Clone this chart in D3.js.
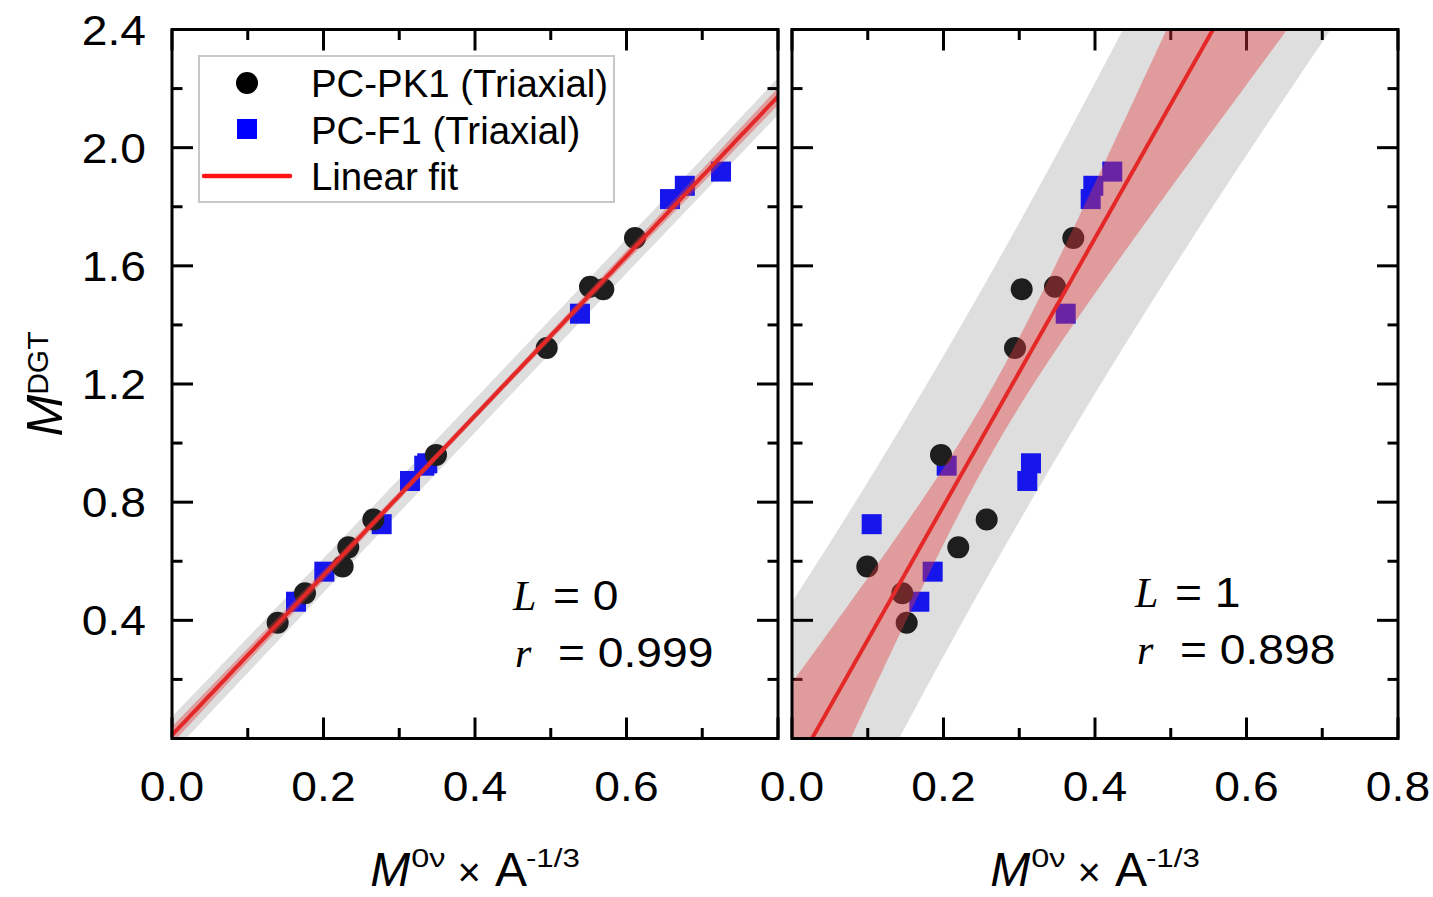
<!DOCTYPE html>
<html>
<head>
<meta charset="utf-8">
<script src="https://cdn.jsdelivr.net/npm/d3@7"></script>
<style>
  body { margin: 0; background: #fff; }
  svg { display: block; }
  text { font-family: "Liberation Sans", Arial, sans-serif; fill: #000; }
</style>
</head>
<body>
<svg id="chart" width="1433" height="897"></svg>
<script>
// M^DGT values (shared by both panels) and M^0v x A^-1/3 for L = 0 and L = 1
const mdgtPK1  = [0.392, 0.4915, 0.582, 0.647, 0.741, 0.960, 1.322, 1.5295, 1.521, 1.694];
const m0vL0PK1 = [0.1395, 0.1756, 0.2253, 0.2327, 0.2658, 0.3485, 0.4947, 0.5518, 0.5694, 0.6112];
const m0vL1PK1 = [0.1514, 0.1456, 0.0994, 0.2195, 0.2570, 0.1967, 0.2944, 0.3472, 0.3032, 0.3714];

const mdgtF1   = [0.463, 0.5647, 0.7255, 0.8717, 0.9235, 0.9316, 1.438, 1.826, 1.871, 1.919];
const m0vL0F1  = [0.1637, 0.2011, 0.2768, 0.3142, 0.333, 0.337, 0.5386, 0.6574, 0.677, 0.7248];
const m0vL1F1  = [0.1681, 0.1857, 0.1052, 0.3106, 0.2042, 0.3155, 0.3613, 0.3943, 0.3978, 0.4228];

const multipoleOrders = ["0", "1"];
const correlations = ["0.999", "0.898"];
const legendLabels = ["PC-PK1 (Triaxial)", "PC-F1 (Triaxial)", "Linear fit"];
const xMajorTicks = [0.0, 0.2, 0.4, 0.6, 0.8];
const xMinorTicks = [0.1, 0.3, 0.5, 0.7];
const yMajorTicks = [0.4, 0.8, 1.2, 1.6, 2.0, 2.4];
const yMinorTicks = [0.2, 0.6, 1.0, 1.4, 1.8, 2.2];
const T_CRIT_95 = 2.1009; // two-sided 95 %, 18 degrees of freedom

const svg = d3.select("#chart");
svg.append("rect").attr("width", 1433).attr("height", 897).attr("fill", "#fff");

const plotTop = 29.5, plotBottom = 738.5;
const panels = [
  { x0: 172, x1: 778, xs: m0vL0PK1.concat(m0vL0F1), pk: m0vL0PK1, f1: m0vL0F1, xLabels: [0.0, 0.2, 0.4, 0.6], yLabels: true },
  { x0: 792, x1: 1398, xs: m0vL1PK1.concat(m0vL1F1), pk: m0vL1PK1, f1: m0vL1F1, xLabels: [0.0, 0.2, 0.4, 0.6, 0.8], yLabels: false }
];
const allY = mdgtPK1.concat(mdgtF1);

function stretch(sel, sx) {
  sel.each(function () {
    const L = this.getComputedTextLength();
    this.setAttribute("textLength", L * sx);
    this.setAttribute("lengthAdjust", "spacingAndGlyphs");
  });
}

// Lays out a sequence of differently styled text runs, centred on (cx, baseline)
function richText(parent, runs, cx, baseline, rotate) {
  const outer = parent.append("g")
    .attr("transform", `translate(${cx},${baseline})` + (rotate ? ` rotate(${rotate})` : ""));
  const g = outer.append("g");
  let pos = 0;
  runs.forEach(r => {
    pos += r.dx || 0;
    const t = g.append("text")
      .attr("x", pos).attr("y", r.dy || 0)
      .attr("font-size", r.size)
      .attr("font-style", r.italic ? "italic" : "normal")
      .text(r.t);
    if (r.family) t.style("font-family", r.family);
    let L = t.node().getComputedTextLength();
    if (r.sx && r.sx !== 1) {
      t.attr("textLength", L * r.sx).attr("lengthAdjust", "spacingAndGlyphs");
      L *= r.sx;
    }
    pos += L;
  });
  g.attr("transform", `translate(${-pos / 2},0)`);
}

function linearFit(xs, ys) {
  const n = xs.length;
  const xbar = d3.mean(xs), ybar = d3.mean(ys);
  let sxx = 0, sxy = 0;
  xs.forEach((x, i) => { sxx += (x - xbar) ** 2; sxy += (x - xbar) * (ys[i] - ybar); });
  const b = sxy / sxx, a = ybar - b * xbar;
  let sse = 0;
  xs.forEach((x, i) => { sse += (ys[i] - a - b * x) ** 2; });
  const s = Math.sqrt(sse / (n - 2));
  return { a, b, s, n, xbar, sxx };
}

panels.forEach((p, idx) => {
  const x = d3.scaleLinear().domain([0, 0.8]).range([p.x0, p.x1]);
  const y = d3.scaleLinear().domain([0, 2.4]).range([plotBottom, plotTop]);
  const g = svg.append("g");
  const clipId = "clip" + idx;
  svg.append("clipPath").attr("id", clipId).append("rect")
    .attr("x", p.x0).attr("y", plotTop).attr("width", p.x1 - p.x0).attr("height", plotBottom - plotTop);

  const fit = linearFit(p.xs, allY);
  const grid = d3.range(0, 0.8001, 0.004).map(v => {
    const yhat = fit.a + fit.b * v;
    const k = 1 / fit.n + (v - fit.xbar) ** 2 / fit.sxx;
    const conf = T_CRIT_95 * fit.s * Math.sqrt(k);
    const pred = T_CRIT_95 * fit.s * Math.sqrt(1 + k);
    return { v, yhat, conf, pred };
  });

  // prediction band
  g.append("path").attr("clip-path", `url(#${clipId})`)
    .attr("fill", "#dedede")
    .attr("d", d3.area().x(d => x(d.v)).y0(d => y(d.yhat - d.pred)).y1(d => y(d.yhat + d.pred))(grid));

  // ticks (inward, on all four sides)
  const ticks = g.append("g").attr("stroke", "#000").attr("stroke-width", 3);
  [[xMajorTicks, 21], [xMinorTicks, 10.5]].forEach(([vals, len]) => {
    vals.forEach(v => {
      ticks.append("line").attr("x1", x(v)).attr("x2", x(v)).attr("y1", plotBottom).attr("y2", plotBottom - len);
      ticks.append("line").attr("x1", x(v)).attr("x2", x(v)).attr("y1", plotTop).attr("y2", plotTop + len);
    });
  });
  [[yMajorTicks, 21], [yMinorTicks, 10.5]].forEach(([vals, len]) => {
    vals.forEach(v => {
      ticks.append("line").attr("y1", y(v)).attr("y2", y(v)).attr("x1", p.x0).attr("x2", p.x0 + len);
      ticks.append("line").attr("y1", y(v)).attr("y2", y(v)).attr("x1", p.x1).attr("x2", p.x1 - len);
    });
  });

  // data points
  g.append("g").selectAll("rect").data(p.f1).join("rect")
    .attr("x", d => x(d) - 10).attr("y", (d, i) => y(mdgtF1[i]) - 10)
    .attr("width", 20).attr("height", 20).attr("fill", "#1616ec");
  g.append("g").selectAll("circle").data(p.pk).join("circle")
    .attr("cx", d => x(d)).attr("cy", (d, i) => y(mdgtPK1[i])).attr("r", 11)
    .attr("fill", "#1e1e1e");

  // confidence band and fitted line
  g.append("path").attr("clip-path", `url(#${clipId})`)
    .attr("fill", "rgb(228,57,57)").attr("fill-opacity", 0.4)
    .attr("d", d3.area().x(d => x(d.v)).y0(d => y(d.yhat - d.conf)).y1(d => y(d.yhat + d.conf))(grid));
  g.append("path").attr("clip-path", `url(#${clipId})`)
    .attr("fill", "none").attr("stroke", "#e42828").attr("stroke-width", 4)
    .attr("d", d3.line().x(d => x(d.v)).y(d => y(d.yhat))(grid));

  // frame
  g.append("rect").attr("x", p.x0).attr("y", plotTop).attr("width", p.x1 - p.x0).attr("height", plotBottom - plotTop)
    .attr("fill", "none").attr("stroke", "#000").attr("stroke-width", 3);

  // tick labels
  g.append("g").selectAll("text").data(p.xLabels).join("text")
    .attr("x", d => x(d)).attr("y", 801).attr("text-anchor", "middle").attr("font-size", 42)
    .text(d => d.toFixed(1)).call(stretch, 1.1);
  if (p.yLabels) {
    g.append("g").selectAll("text").data(yMajorTicks).join("text")
      .attr("x", 146).attr("y", d => y(d) + 15).attr("text-anchor", "end").attr("font-size", 42)
      .text(d => d.toFixed(1)).call(stretch, 1.1);
  }

  // x-axis title
  richText(g, [
    { t: "M", size: 48, italic: true },
    { t: "0\u03BD", size: 25, dy: -19, sx: 1.3, dx: 1 },
    { t: "\u00D7", size: 40, dx: 12 },
    { t: "A", size: 48, dx: 14 },
    { t: "-1/3", size: 25, dy: -19, sx: 1.25, dx: -1 }
  ], (p.x0 + p.x1) / 2, 886);

  // annotation
  const ax = p.x0 + (idx === 0 ? 341 : 343);
  const ay = idx === 0 ? 610 : 607;
  g.append("text").attr("x", ax).attr("y", ay).attr("font-size", 42).attr("font-style", "italic")
    .style("font-family", "'Liberation Serif', 'Times New Roman', serif").text("L");
  g.append("text").attr("x", ax + 40).attr("y", ay).attr("font-size", 42)
    .text("= " + multipoleOrders[idx]).call(stretch, 1.1);
  g.append("text").attr("x", ax + 2).attr("y", ay + 57).attr("font-size", 42).attr("font-style", "italic")
    .style("font-family", "'Liberation Serif', 'Times New Roman', serif").text("r");
  g.append("text").attr("x", ax + 45).attr("y", ay + 57).attr("font-size", 42)
    .text("= " + correlations[idx]).call(stretch, 1.1);
});

// y-axis title
richText(svg, [
  { t: "M", size: 50, italic: true },
  { t: "DGT", size: 30, dy: -14, dx: 0 }
], 62, 384, -90);

// legend
const lg = svg.append("g");
lg.append("rect").attr("x", 199).attr("y", 56).attr("width", 415).attr("height", 146)
  .attr("fill", "#fff").attr("stroke", "#c8c8c8").attr("stroke-width", 2);
lg.append("circle").attr("cx", 247).attr("cy", 83).attr("r", 11).attr("fill", "#000");
lg.append("rect").attr("x", 237).attr("y", 119).attr("width", 20).attr("height", 20).attr("fill", "#0000ff");
lg.append("line").attr("x1", 204).attr("x2", 290).attr("y1", 176).attr("y2", 176)
  .attr("stroke", "#ff1414").attr("stroke-width", 4.5).attr("stroke-linecap", "round");
lg.selectAll("text.leg").data(legendLabels).join("text").attr("class", "leg")
  .attr("x", 311).attr("y", (d, i) => 97 + i * 46.5).attr("font-size", 38).text(d => d)
  .call(stretch, 1.01);
</script>
</body>
</html>
